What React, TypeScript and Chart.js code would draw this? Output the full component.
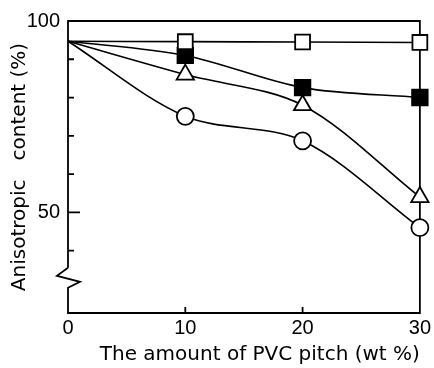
import React, { useEffect, useRef } from "react";
import { Chart, registerables } from "chart.js";

Chart.register(...registerables);

const xValues = [0, 10, 20, 30];
const openSquare = [94.7, 94.6, 94.5, 94.4];
const filledSquare = [94.7, 91.0, 82.6, 80.0];
const openTriangle = [94.7, 86.0, 78.0, 54.0];
const openCircle = [94.7, 75.1, 68.7, 46.0];

const xTicks = [0, 10, 20, 30];
const yTicks = [40, 50, 60, 70, 80, 90, 100];
const yLabeled = [50, 100];
const yMajor = [50];
const xMin = 0;
const xMax = 30;
const yMin = 23.7;
const yMax = 100;
const yBreakValue = 32.9;

const xTitle = "The amount of PVC pitch (wt %)";
const yTitle = "Anisotropic   content (%)";

const toPoints = (ys: number[]) => xValues.map((x, i) => ({ x, y: ys[i] }));

const framePlugin = {
  id: "frame",
  beforeDatasetsDraw(chart: any) {
    const { ctx, chartArea, scales } = chart;
    const { left: L, right: R, top: T, bottom: B } = chartArea;
    const ys = scales.y;
    const xs = scales.x;
    ctx.save();
    ctx.strokeStyle = "#000";
    ctx.lineWidth = 1.8;
    ctx.lineJoin = "miter";
    const pb = ys.getPixelForValue(yBreakValue);
    ctx.beginPath();
    ctx.moveTo(L, pb - 10);
    ctx.lineTo(L, T);
    ctx.lineTo(R, T);
    ctx.lineTo(R, B);
    ctx.lineTo(L, B);
    ctx.lineTo(L, pb + 10);
    ctx.lineTo(L + 12, pb + 4);
    ctx.lineTo(L - 11, pb - 2);
    ctx.lineTo(L, pb - 10);
    ctx.stroke();
    // inward ticks
    ctx.beginPath();
    yTicks.forEach((v) => {
      if (v >= yMax) return;
      const py = ys.getPixelForValue(v);
      const len = yMajor.includes(v) ? 12 : 6;
      ctx.moveTo(L, py);
      ctx.lineTo(L + len, py);
    });
    xTicks.forEach((v) => {
      if (v <= xMin || v >= xMax) return;
      const px = xs.getPixelForValue(v);
      ctx.moveTo(px, B);
      ctx.lineTo(px, B - 6);
    });
    ctx.stroke();
    ctx.restore();
  },
};

export default function App() {
  const ref = useRef<HTMLCanvasElement | null>(null);
  useEffect(() => {
    if (!ref.current) return;
    const common = {
      borderColor: "#000",
      borderWidth: 1.6,
      pointBorderColor: "#000",
      pointBorderWidth: 1.8,
      tension: 0.32,
      clip: false as any,
    };
    const chart = new Chart(ref.current, {
      type: "line",
      data: {
        datasets: [
          {
            ...common,
            label: "open square",
            data: toPoints(openSquare),
            pointStyle: "rect",
            pointRadius: [0, 10.5, 10.5, 10.5],
            pointBackgroundColor: "#fff",
          },
          {
            ...common,
            label: "filled square",
            data: toPoints(filledSquare),
            pointStyle: "rect",
            pointRadius: [0, 11, 11, 11],
            pointBackgroundColor: "#000",
          },
          {
            ...common,
            label: "open triangle",
            data: toPoints(openTriangle),
            pointStyle: "triangle",
            pointRadius: [0, 10, 10, 10],
            pointBackgroundColor: "#fff",
          },
          {
            ...common,
            label: "open circle",
            data: toPoints(openCircle),
            pointStyle: "circle",
            pointRadius: [0, 8.5, 8.5, 8.5],
            pointBackgroundColor: "#fff",
          },
        ],
      },
      options: {
        responsive: false,
        animation: false,
        events: [],
        layout: { padding: { top: 21, right: 13, left: 0, bottom: 0 } },
        plugins: {
          legend: { display: false },
          tooltip: { enabled: false },
        },
        scales: {
          x: {
            type: "linear",
            min: xMin,
            max: xMax,
            afterBuildTicks: (s: any) => {
              s.ticks = xTicks.map((v) => ({ value: v }));
            },
            afterFit: (s: any) => {
              s.height = 55;
            },
            grid: { display: false, drawTicks: false, tickLength: 0 },
            border: { display: false },
            ticks: {
              color: "#000",
              font: { family: "Liberation Sans", size: 20 },
              padding: 3,
              maxRotation: 0,
              callback: (v: any) => String(v),
            },
            title: {
              display: true,
              text: xTitle,
              color: "#000",
              align: "end",
              font: { family: "DejaVu Sans", size: 20 },
              padding: { top: 0, bottom: 1 },
            },
          },
          y: {
            type: "linear",
            min: yMin,
            max: yMax,
            afterBuildTicks: (s: any) => {
              s.ticks = yTicks.map((v) => ({ value: v }));
            },
            afterFit: (s: any) => {
              s.width = 68;
            },
            grid: { display: false, drawTicks: false, tickLength: 0 },
            border: { display: false },
            ticks: {
              color: "#000",
              font: { family: "Liberation Sans", size: 20 },
              padding: 8,
              callback: (v: any) => (yLabeled.includes(Number(v)) ? String(v) : ""),
            },
            title: {
              display: true,
              text: yTitle,
              color: "#000",
              font: { family: "DejaVu Sans", size: 20 },
              padding: { top: 8, bottom: 0 },
            },
          },
        },
      },
      plugins: [framePlugin],
    });
    return () => chart.destroy();
  }, []);

  return (
    <div style={{ position: "fixed", left: 0, top: 0, width: 434, height: 368, background: "#fff" }}>
      <canvas ref={ref} width={434} height={368} style={{ display: "block" }} />
    </div>
  );
}
